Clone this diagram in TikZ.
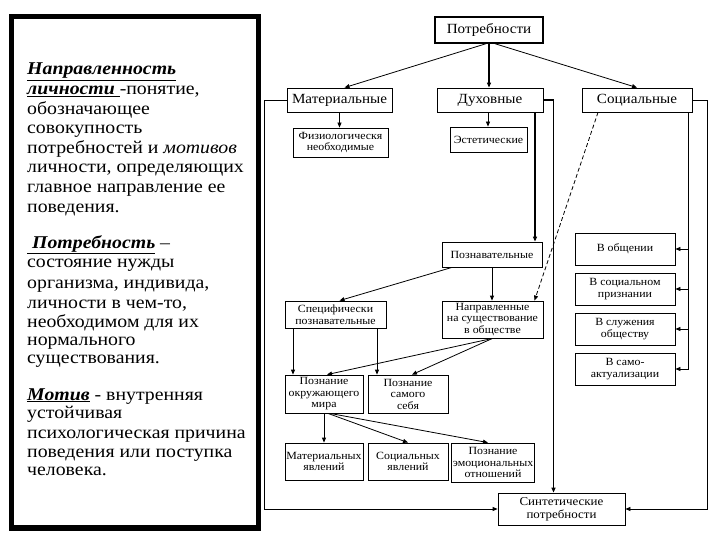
\documentclass[tikz,border=0pt]{standalone}
\usepackage{fontspec}
\setmainfont{Liberation Serif}
\newfontfamily\widef[FakeStretch=1.1]{Liberation Serif}
\newfontfamily\chartf[FakeStretch=1.08]{Liberation Serif}
\usetikzlibrary{arrows.meta}
\begin{document}
\begin{tikzpicture}[x=1pt,y=-1pt,
  txt/.style={anchor=base west, inner sep=0pt, font=\widef\fontsize{18}{19}\selectfont},
  box/.style={draw, line width=0.8pt, inner sep=1pt, align=center, font=\chartf\fontsize{11}{11.5}\selectfont},
  bigbox/.style={box, font=\chartf\fontsize{14}{15}\selectfont},
  arr/.style={-{Triangle[length=5pt,width=4pt]}, line width=0.8pt},
  thk/.style={line width=1.4pt}]
\useasboundingbox (0,0) rectangle (720,540);
% left text frame
\node (frame) [draw, line width=5.5pt, minimum width=247pt, minimum height=511.5pt, inner sep=0pt] at (135,272.25) {};
\node[txt] (t1) at (27,75) {\textbf{\textit{\underline{Направленность}}}};
\node[txt] (t2) at (27,95) {\underline{\textbf{\textit{личности\ }}}-понятие,};
\node[txt] (t3) at (27,115) {обозначающее};
\node[txt] (t4) at (27,134) {совокупность};
\node[txt] (t5) at (27,154) {потребностей и \textit{мотивов}};
\node[txt] (t6) at (27,173) {личности, определяющих};
\node[txt] (t7) at (27,193) {главное направление ее};
\node[txt] (t8) at (27,212) {поведения.};
\node[txt] (t9) at (27,248) {\underline{\textbf{\textit{\ Потребность}}} –};
\node[txt] (t10) at (27,267) {состояние нужды};
\node[txt] (t11) at (27,288) {организма, индивида,};
\node[txt] (t12) at (27,308) {личности в чем-то,};
\node[txt] (t13) at (27,327) {необходимом для их};
\node[txt] (t14) at (27,345) {нормального};
\node[txt] (t15) at (27,363) {существования.};
\node[txt] (t16) at (27,400) {\underline{\textbf{\textit{Мотив}}} - внутренняя};
\node[txt] (t17) at (27,418) {устойчивая};
\node[txt] (t18) at (27,438) {психологическая причина};
\node[txt] (t19) at (27,457) {поведения или поступка};
\node[txt] (t20) at (27,475) {человека.};
% chart boxes
\node[bigbox, thk, minimum width=108pt, minimum height=26pt] (potr) at (489,30) {Потребности};
\node[bigbox, minimum width=105pt, minimum height=24pt] (mat) at (339.5,100) {Материальные};
\node[bigbox, minimum width=106pt, minimum height=24pt] (duh) at (490,100) {Духовные};
\node[bigbox, minimum width=110pt, minimum height=24pt] (soc) at (637,100) {Социальные};
\node[box, minimum width=95pt, minimum height=29pt] (fiz) at (340.5,142.5) {Физиологическя\\необходимые};
\node[box, minimum width=77pt, minimum height=25pt] (est) at (488.5,139.5) {Эстетические};
\node[box, minimum width=100pt, minimum height=25pt] (pozn) at (492,254.5) {Познавательные};
\node[box, minimum width=101pt, minimum height=27pt] (spec) at (335.5,314.5) {Специфически\\познавательные};
\node[box, minimum width=101pt, minimum height=37pt] (napr) at (492.5,319.5) {Направленные\\на существование\\в обществе};
\node[box, minimum width=100pt, minimum height=32pt] (obsh) at (625,249) {В общении};
\node[box, minimum width=100pt, minimum height=32pt] (prizn) at (625,289) {В социальном\\признании};
\node[box, minimum width=100pt, minimum height=32pt] (sluzh) at (625,329) {В служения\\обществу};
\node[box, minimum width=100pt, minimum height=32pt] (samo) at (625,369) {В само-\\актуализации};
\node[box, minimum width=78pt, minimum height=38pt] (okr) at (324,394) {Познание\\окружающего\\мира};
\node[box, minimum width=80pt, minimum height=38pt] (sebya) at (408,394) {Познание\\самого\\себя};
\node[box, minimum width=78pt, minimum height=37pt] (matya) at (324,461.5) {Материальных\\явлений};
\node[box, minimum width=80pt, minimum height=37pt] (socya) at (408,461.5) {Социальных\\явлений};
\node[box, minimum width=80pt, minimum height=39pt] (emo) at (493,462.5) {Познание\\эмоциональных\\отношений};
\node[box, font=\chartf\fontsize{12}{13}\selectfont, minimum width=127pt, minimum height=32pt] (sint) at (561.5,509) {Синтетические\\потребности};
% connectors
\draw[arr] ([xshift=-3pt]potr.south) -- ([xshift=5pt]mat.north);
\draw[arr, thk] (potr.south) -- (potr.south |- duh.north);
\draw[arr] ([xshift=6pt]potr.south) -- (soc.north);
\draw[arr] (mat.south) -- (mat.south |- fiz.north);
\draw[arr] ([xshift=-2pt]duh.south) -- ([xshift=-2pt]duh.south |- est.north);
\draw[arr, thk] (duh.east) -| ([xshift=-8pt]sint.north);
\draw[arr, thk] ([xshift=45pt]duh.south) -- ([xshift=45pt]duh.south |- pozn.north);
\draw[arr] (mat.west) -- ++(-22,0) |- (sint.west);
\draw[arr] (soc.east) -- ++(15,0) |- (sint.east);
\coordinate (sr) at ([xshift=51pt]soc.south);
\draw[arr] (sr) |- (samo.east);
\draw[arr] (obsh.east -| sr) -- (obsh.east);
\draw[arr] (prizn.east -| sr) -- (prizn.east);
\draw[arr] (sluzh.east -| sr) -- (sluzh.east);
\draw[arr, dash pattern=on 4pt off 2.5pt] ([xshift=-39pt]soc.south) -- ([xshift=42pt]napr.north);
\draw[arr] ([xshift=-40pt]pozn.south) -- ([xshift=4pt]spec.north);
\draw[arr] (pozn.south) -- (pozn.south |- napr.north);
\draw[arr] ([xshift=-42.5pt]spec.south) -- ([xshift=-42.5pt]spec.south |- okr.north);
\draw[arr] ([xshift=41.5pt]spec.south) -- ([xshift=41.5pt]spec.south |- sebya.north);
\draw[arr] (napr.south) -- ([xshift=3pt]okr.north);
\draw[arr] (napr.south) -- ([xshift=4pt]sebya.north);
\draw[arr] (okr.south) -- (matya.north);
\draw[arr] ([xshift=4pt]okr.south) -- (socya.north);
\draw[arr] ([xshift=6pt]okr.south) -- ([xshift=-5pt]emo.north);
\end{tikzpicture}
\end{document}
